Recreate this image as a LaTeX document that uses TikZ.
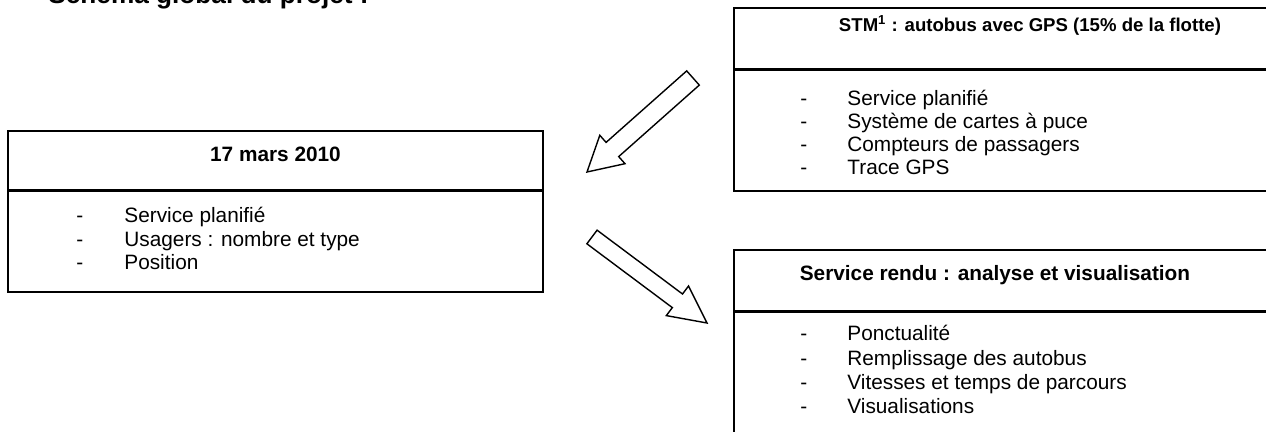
\documentclass[tikz,border=0pt]{standalone}
\usepackage{fontspec}
\setmainfont{Liberation Sans}
\begin{document}
\begin{tikzpicture}[x=0.5pt, y=-0.5pt,
    box/.style={draw, line width=0.85pt},
    divider/.style={line width=1.5pt},
    header/.style={anchor=base, inner sep=0pt, font=\fontsize{10.4}{12}\selectfont\bfseries},
    item/.style={anchor=base west, inner sep=0pt, font=\fontsize{10.4}{12}\selectfont},
    hollowarrow/.style={draw, line width=0.7pt, line join=miter, fill=white}]
    \useasboundingbox (0,0) rectangle (1266,432);
    \clip (0,0) rectangle (1266,432);

    % Title (cut off at the top)
    \node[anchor=base west, inner sep=0pt, font=\fontsize{13.1}{15}\selectfont\bfseries] (title) at (48,4) {Schéma global du projet :};

    % Define boxes
    \draw[box] (8,131) rectangle (543,292);
    \draw[divider] (8,191) -- (543,191);
    \draw[box] (734,8) rectangle (1330,191);
    \draw[divider] (734,70) -- (1330,70);
    \draw[box] (734,250) rectangle (1330,470);
    \draw[divider] (734,312) -- (1330,312);

    % Headers
    \node[header] (day) at (275.5,162) {17 mars 2010};
    \node[header, font=\fontsize{9.3}{11}\selectfont\bfseries] (stm) at (1030,32) {STM\textsuperscript{1} : autobus avec GPS (15\% de la flotte)};
    \node[header] (rendu) at (995,281) {Service rendu : analyse et visualisation};

    % Lists
    \foreach \txt [count=\i from 0] in {Service planifié, Usagers : nombre et type, Position} {
        \node[item] (dayd\i) at (76,223+23.5*\i) {-};
        \node[item] (dayi\i) at (124,223+23.5*\i) {\txt};
    }
    \foreach \txt [count=\i from 0] in {Service planifié, Système de cartes à puce, Compteurs de passagers, Trace GPS} {
        \node[item] (stmd\i) at (800,106+23*\i) {-};
        \node[item] (stmi\i) at (847,106+23*\i) {\txt};
    }
    \foreach \txt [count=\i from 0] in {Ponctualité, Remplissage des autobus, Vitesses et temps de parcours, Visualisations} {
        \node[item] (rendud\i) at (800,341+24.3*\i) {-};
        \node[item] (rendui\i) at (847,341+24.3*\i) {\txt};
    }

    % Arrows
    \draw[hollowarrow] (686.7,70.9) -- (606.1,142.4) -- (599.8,135.3) -- (587,172)
        -- (625.0,163.7) -- (618.7,156.6) -- (699.3,85.1) -- cycle;
    \draw[hollowarrow] (597.1,230.2) -- (682.5,294.0) -- (688.5,286.0) -- (707,323)
        -- (666.3,315.6) -- (672.3,307.6) -- (586.9,243.8) -- cycle;
\end{tikzpicture}
\end{document}
